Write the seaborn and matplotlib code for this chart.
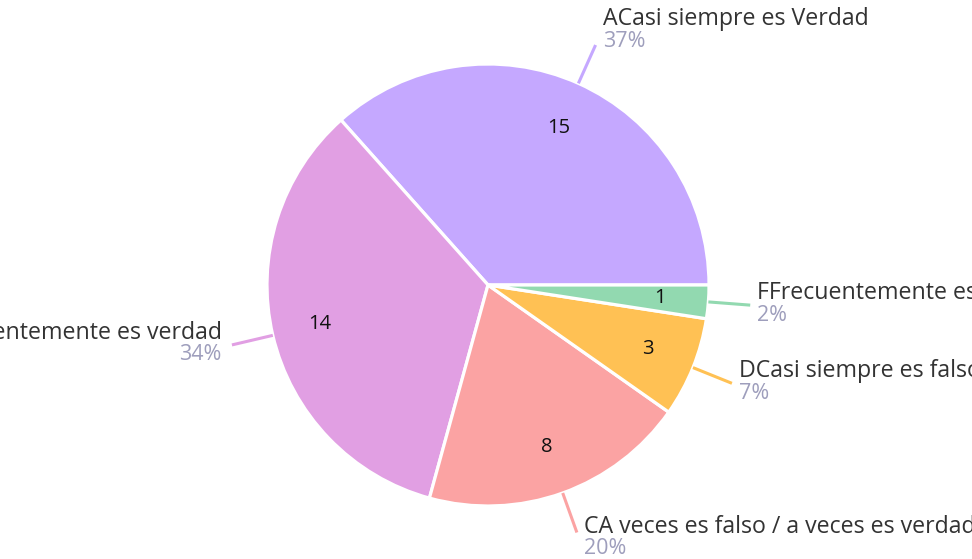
import numpy as np
import matplotlib
matplotlib.use("Agg")
import matplotlib.pyplot as plt
import seaborn as sns

labels = ["ACasi siempre es Verdad", "BFrecuentemente es verdad",
          "CA veces es falso / a veces es verdad", "DCasi siempre es falso",
          "FFrecuentemente es falso"]
values = [15, 14, 8, 3, 1]
colors = ["#C5A8FF", "#E19FE3", "#FBA3A3", "#FFC154", "#92D9B0"]

sns.set_theme(style="white")
plt.rcParams['font.family'] = ['Open Sans', 'DejaVu Sans']

W, H = 972, 559
cx, cy, R = 488, 285, 221
fig = plt.figure(figsize=(W / 100, H / 100), dpi=100)
ax = fig.add_axes([0, 0, 1, 1])

total = sum(values)
wedges, texts = ax.pie(values, colors=colors, startangle=0, counterclock=True,
                       labels=[str(v) for v in values], labeldistance=0.78,
                       wedgeprops=dict(edgecolor='white', linewidth=2.3),
                       textprops=dict(fontsize=14.5, color='#111111'))
for t in texts:
    t.set_ha('center'); t.set_va('center')
ax.set_aspect('auto')
ax.set_xlim(-cx / R, (W - cx) / R)
ax.set_ylim(-(H - cy) / R, cy / R)
ax.axis('off')

px = 1.0 / R
for w, lab, v, c in zip(wedges, labels, values, colors):
    mid = np.deg2rad((w.theta1 + w.theta2) / 2)
    x0, y0 = np.cos(mid), np.sin(mid)
    x1, y1 = 1.19 * x0, 1.19 * y0
    ax.plot([x0, x1], [y0, y1], color=c, lw=2.2, solid_capstyle='butt')
    right = x0 >= 0
    tx = x1 + (7 * px if right else -10 * px)
    if y0 > 0.7:
        base = y1 + 20 * px
    elif y0 < -0.7:
        base = y1
    else:
        base = y1 + 6 * px
    ha = 'left' if right else 'right'
    ax.text(tx, base, lab, ha=ha, va='baseline', fontsize=16.7,
            color='#333333')
    ax.text(tx, base - 16 * px, f"{round(100 * v / total)}%", ha=ha,
            va='center', fontsize=15.5, color='#9E9EBC')

fig.savefig("out.png", dpi=100)
